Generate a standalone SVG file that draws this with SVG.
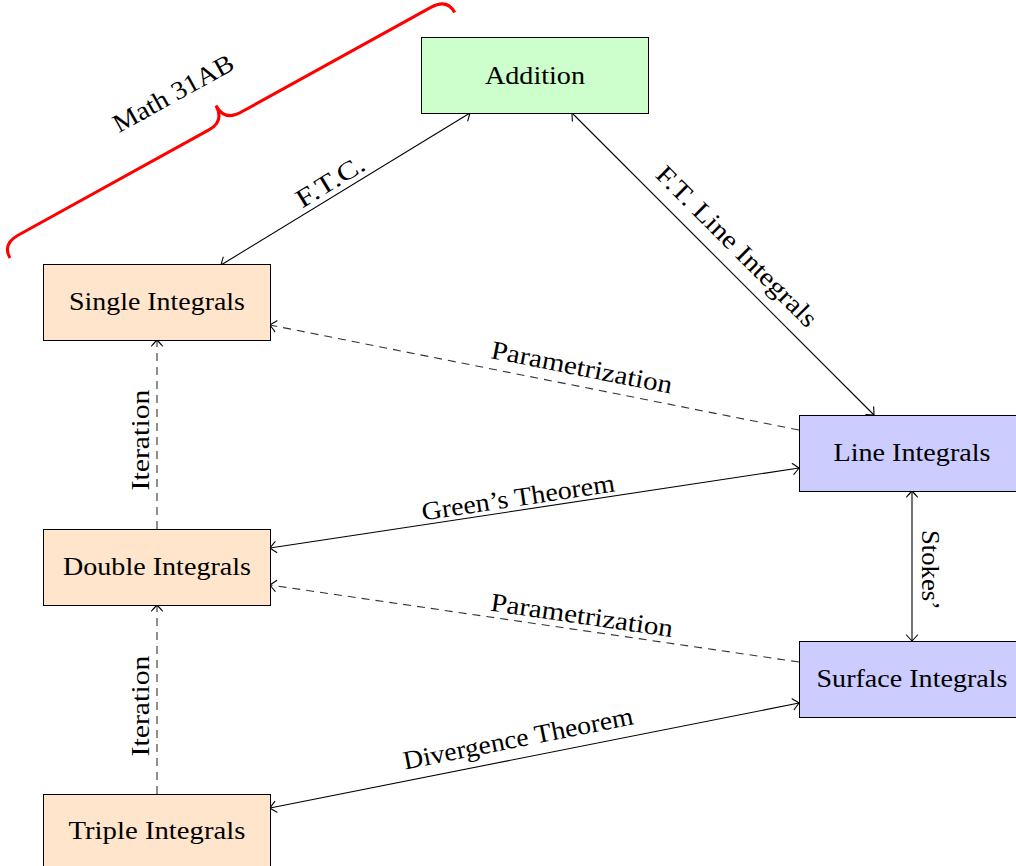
<svg xmlns="http://www.w3.org/2000/svg" width="1016" height="866" viewBox="0 0 1016 866">
<defs>
<marker id="to" viewBox="-10 -8 12 16" markerWidth="12" markerHeight="16" refX="0" refY="0" orient="auto-start-reverse" markerUnits="userSpaceOnUse">
<path d="M-6,-5.5 Q-1.5,-1.5 0,0 Q-1.5,1.5 -6,5.5" fill="none" stroke="#000" stroke-width="1.1" stroke-linecap="round"/>
</marker>
<style>
.box{stroke:#000;stroke-width:1}
.peach{fill:#ffe5cc}
.green{fill:#ccffcc}
.blue{fill:#ccccff}
.t{font-family:"Liberation Serif","Times New Roman",serif;font-size:26px;fill:#000;text-anchor:middle}
.e{stroke:#000;stroke-width:1.1;fill:none}
.d{stroke-dasharray:8 6;stroke:#333}
</style>
</defs>

<g id="brace">
<path transform="translate(10,258) rotate(-28.9)" d="M0,0 Q0,-16 18,-16 L236,-16 Q254,-16 254,-34 Q254,-16 272,-16 L490,-16 Q508,-16 508,0" fill="none" stroke="#ff0000" stroke-width="3"/>
<text class="t" transform="translate(173,93) rotate(-28.9)" y="9" textLength="134" lengthAdjust="spacingAndGlyphs">Math 31AB</text>
</g>

<g id="connectors">
<g id="e-ftc">
<line class="e" x1="221" y1="265" x2="470" y2="113" marker-start="url(#to)" marker-end="url(#to)"/>
<text class="t" transform="translate(330,181) rotate(-31.2)" y="9" textLength="76" lengthAdjust="spacingAndGlyphs">F.T.C.</text>
</g>
<g id="e-ftli">
<line class="e" x1="572" y1="113" x2="874" y2="415" marker-start="url(#to)" marker-end="url(#to)"/>
<text class="t" transform="translate(737,246) rotate(45)" y="9" textLength="216" lengthAdjust="spacingAndGlyphs">F.T. Line Integrals</text>
</g>
<g id="e-param1">
<line class="e d" x1="799" y1="430" x2="270" y2="325" marker-end="url(#to)"/>
<text class="t" transform="translate(582,367) rotate(11.2)" y="9" textLength="184" lengthAdjust="spacingAndGlyphs">Parametrization</text>
</g>
<g id="e-green">
<line class="e" x1="270" y1="548" x2="799" y2="468" marker-start="url(#to)" marker-end="url(#to)"/>
<text class="t" transform="translate(518,497) rotate(-8.6)" y="9" textLength="195" lengthAdjust="spacingAndGlyphs">Green’s Theorem</text>
</g>
<g id="e-param2">
<line class="e d" x1="799" y1="662" x2="270" y2="585" marker-end="url(#to)"/>
<text class="t" transform="translate(582,615) rotate(8.3)" y="9" textLength="184" lengthAdjust="spacingAndGlyphs">Parametrization</text>
</g>
<g id="e-div">
<line class="e" x1="270" y1="808" x2="799" y2="703" marker-start="url(#to)" marker-end="url(#to)"/>
<text class="t" transform="translate(518,738) rotate(-11.2)" y="9" textLength="234" lengthAdjust="spacingAndGlyphs">Divergence Theorem</text>
</g>
<g id="e-stokes">
<line class="e" x1="912" y1="491" x2="912" y2="641" marker-start="url(#to)" marker-end="url(#to)"/>
<text class="t" transform="translate(931,570) rotate(90)" y="9" textLength="80" lengthAdjust="spacingAndGlyphs">Stokes’</text>
</g>
<g id="e-iter1">
<line class="e d" x1="157" y1="529" x2="157" y2="340" marker-end="url(#to)"/>
<text class="t" transform="translate(140,440) rotate(-90)" y="9" textLength="101" lengthAdjust="spacingAndGlyphs">Iteration</text>
</g>
<g id="e-iter2">
<line class="e d" x1="157" y1="794" x2="157" y2="605" marker-end="url(#to)"/>
<text class="t" transform="translate(140,706) rotate(-90)" y="9" textLength="101" lengthAdjust="spacingAndGlyphs">Iteration</text>
</g>
</g>

<g id="addition">
<rect class="box green" x="421.5" y="37.5" width="227" height="76"/>
<text class="t" x="535" y="84" textLength="100" lengthAdjust="spacingAndGlyphs">Addition</text>
</g>
<g id="single">
<rect class="box peach" x="43.5" y="264.5" width="227" height="76"/>
<text class="t" x="157" y="310" textLength="176" lengthAdjust="spacingAndGlyphs">Single Integrals</text>
</g>
<g id="double">
<rect class="box peach" x="43.5" y="529.5" width="227" height="76"/>
<text class="t" x="157" y="575" textLength="188" lengthAdjust="spacingAndGlyphs">Double Integrals</text>
</g>
<g id="triple">
<rect class="box peach" x="43.5" y="794.5" width="227" height="76"/>
<text class="t" x="157" y="839" textLength="177" lengthAdjust="spacingAndGlyphs">Triple Integrals</text>
</g>
<g id="line">
<rect class="box blue" x="799.5" y="415.5" width="227" height="76"/>
<text class="t" x="912" y="461" textLength="157" lengthAdjust="spacingAndGlyphs">Line Integrals</text>
</g>
<g id="surface">
<rect class="box blue" x="799.5" y="641.5" width="227" height="76"/>
<text class="t" x="912" y="687" textLength="191" lengthAdjust="spacingAndGlyphs">Surface Integrals</text>
</g>
</svg>
